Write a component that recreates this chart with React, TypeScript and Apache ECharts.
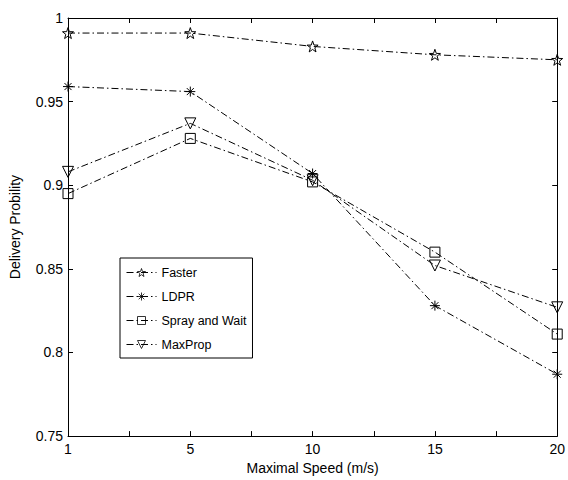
import React, { useEffect, useRef } from "react";
import * as echarts from "echarts";

const xLabels = ["1", "5", "10", "15", "20"];
const seriesNames = ["Faster", "LDPR", "Spray and Wait", "MaxProp"];
const faster = [0.991, 0.991, 0.983, 0.978, 0.975];
const ldpr = [0.959, 0.956, 0.907, 0.828, 0.787];
const sprayWait = [0.895, 0.928, 0.902, 0.86, 0.811];
const maxProp = [0.908, 0.937, 0.903, 0.852, 0.827];
const yTicks = { min: 0.75, max: 1, interval: 0.05 };

const STAR =
  "path://M0,-10 L2.35,-3.24 L9.51,-3.09 L3.8,1.24 L5.88,8.09 L0,4 L-5.88,8.09 L-3.8,1.24 L-9.51,-3.09 L-2.35,-3.24 Z";
const ASTERISK = "path://M0,-10 L0,10 M-10,0 L10,0 M-7,-7 L7,7 M-7,7 L7,-7";
const TRI_DOWN = "path://M-10,-9 L10,-9 L0,10 Z";

const FONT = "'Liberation Sans', Arial, sans-serif";
const DASH = [7, 3, 1.5, 3];

export default function App() {
  const ref = useRef<HTMLDivElement>(null);
  useEffect(() => {
    if (!ref.current) return;
    const chart = echarts.init(ref.current, undefined, { renderer: "svg" });
    const mk = (name: string, vals: number[], symbol: string, size: number) => ({
      name,
      type: "line",
      data: vals.map((v, i) => [i + 1, v]),
      symbol,
      symbolSize: size,
      showAllSymbol: true,
      lineStyle: { color: "#000", width: 1, type: DASH },
      itemStyle: { color: "transparent", borderColor: "#000", borderWidth: 1 },
      emphasis: { disabled: true },
    });
    const axisLine = { show: true, onZero: false, lineStyle: { color: "#000", width: 1 } };
    const axisTick = { show: true, inside: true, length: 5, lineStyle: { color: "#000", width: 1 } };
    chart.setOption({
      animation: false,
      backgroundColor: "#fff",
      textStyle: { fontFamily: FONT },
      grid: { left: 66, right: 7, top: 18, bottom: 42 },
      legend: {
        orient: "vertical",
        left: 120,
        top: 258,
        data: seriesNames,
        itemWidth: 30,
        itemHeight: 10,
        itemGap: 11,
        padding: [8, 6, 7, 6],
        borderColor: "#000",
        borderWidth: 1,
        backgroundColor: "#fff",
        lineStyle: { width: 1, color: "#000", type: DASH },
        itemStyle: { color: "transparent", borderColor: "#000", borderWidth: 0.8 },
        textStyle: { color: "#000", fontSize: 12.5, fontFamily: FONT, lineHeight: 13 },
        selectedMode: false,
      },
      xAxis: [
        {
          type: "value",
          position: "bottom",
          min: 1,
          max: 5,
          interval: 0.5,
          axisLine,
          axisTick,
          splitLine: { show: false },
          axisLabel: {
            color: "#000",
            fontSize: 14,
            margin: 6,
            fontFamily: FONT,
            formatter: (v: number) =>
              Math.abs(v - Math.round(v)) < 1e-6 ? xLabels[Math.round(v) - 1] : "",
          },
          name: "Maximal Speed (m/s)",
          nameLocation: "middle",
          nameGap: 23,
          nameTextStyle: { color: "#000", fontSize: 14, fontFamily: FONT },
        },
        {
          type: "value",
          position: "top",
          min: 1,
          max: 5,
          interval: 0.5,
          axisLine,
          axisTick,
          splitLine: { show: false },
          axisLabel: { show: false },
        },
      ],
      yAxis: [
        {
          type: "value",
          position: "left",
          min: yTicks.min,
          max: yTicks.max,
          interval: yTicks.interval,
          axisLine,
          axisTick,
          splitLine: { show: false },
          axisLabel: { color: "#000", fontSize: 14, margin: 5, fontFamily: FONT },
          name: "Delivery Probility",
          nameLocation: "middle",
          nameGap: 46,
          nameRotate: 90,
          nameTextStyle: { color: "#000", fontSize: 14, fontFamily: FONT },
        },
        {
          type: "value",
          position: "right",
          min: yTicks.min,
          max: yTicks.max,
          interval: yTicks.interval,
          axisLine,
          axisTick,
          splitLine: { show: false },
          axisLabel: { show: false },
        },
      ],
      series: [
        mk(seriesNames[0], faster, STAR, 11),
        mk(seriesNames[1], ldpr, ASTERISK, 10),
        mk(seriesNames[2], sprayWait, "rect", 10),
        mk(seriesNames[3], maxProp, TRI_DOWN, 11),
      ],
    });
    return () => chart.dispose();
  }, []);
  return (
    <div
      ref={ref}
      style={{ position: "fixed", left: 0, top: 0, width: 568, height: 480 }}
    />
  );
}
